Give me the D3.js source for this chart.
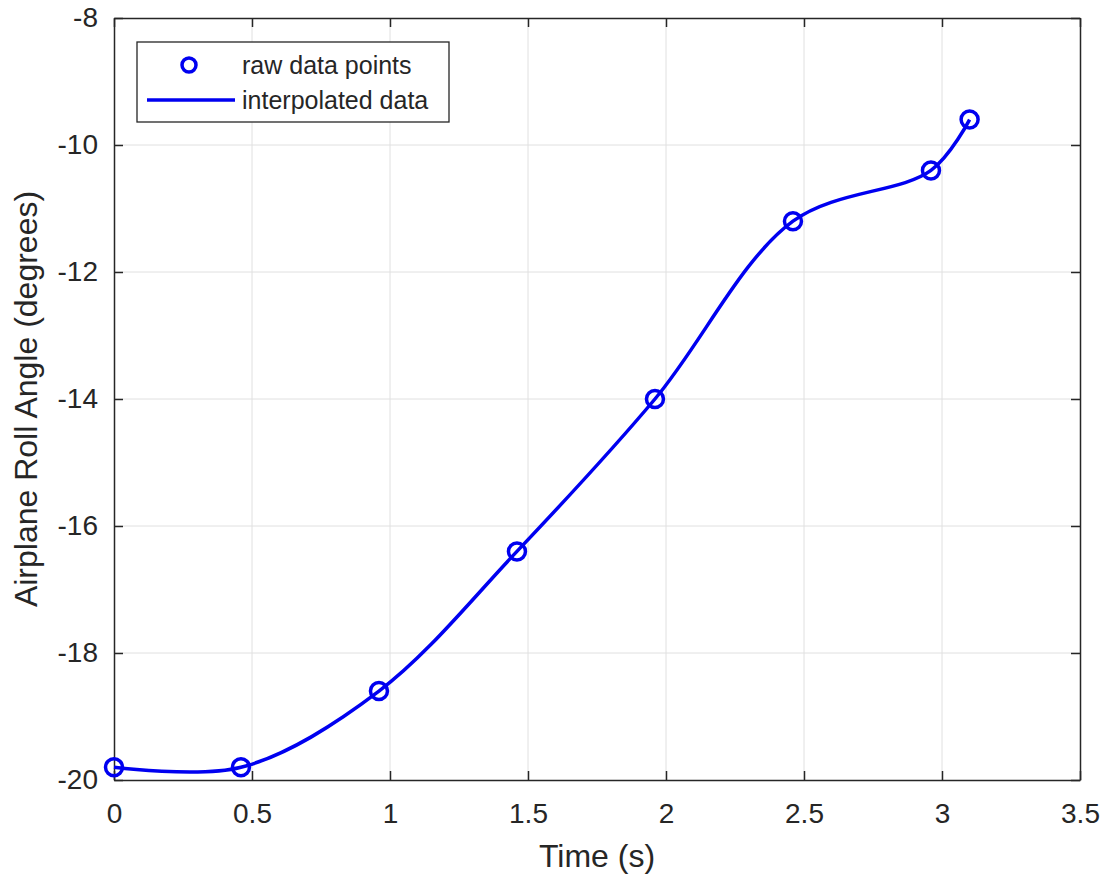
<!DOCTYPE html>
<html>
<head>
<meta charset="utf-8">
<script src="https://cdn.jsdelivr.net/npm/d3@7"></script>
<style>
  body { margin: 0; background: #fff; }
  text { font-family: "Liberation Sans", Arial, sans-serif; fill: #262626; }
</style>
</head>
<body>
<div id="chart"></div>
<script>
// data
var times = [0, 0.46, 0.96, 1.46, 1.96, 2.46, 2.96, 3.1];
var rollAngles = [-19.8, -19.8, -18.6, -16.4, -14.0, -11.2, -10.4, -9.6];
var xTicks = [0, 0.5, 1, 1.5, 2, 2.5, 3, 3.5];
var yTicks = [-20, -18, -16, -14, -12, -10, -8];
var legendLabels = ["raw data points", "interpolated data"];

var data = times.map(function(t, i) { return {t: t, a: rollAngles[i]}; });

// set dimensions margins of graph
var margin = {top: 18, right: 29, bottom: 99, left: 114},
    width = 1109 - margin.left - margin.right,
    height = 879 - margin.top - margin.bottom;

var svg = d3.select("#chart")
  .append("svg")
    .attr("width", 1109)
    .attr("height", 879)
  .append("g")
    .attr("transform", "translate(" + margin.left + "," + margin.top + ")");

var x = d3.scaleLinear().domain([0, 3.5]).range([0, width]);
var y = d3.scaleLinear().domain([-20, -8]).range([height, 0]);

// grid
svg.append("g").selectAll("line")
  .data(xTicks.slice(1, -1)).enter().append("line")
    .attr("x1", function(d) { return x(d); }).attr("x2", function(d) { return x(d); })
    .attr("y1", 0).attr("y2", height)
    .attr("stroke", "#e0e0e0").attr("stroke-width", 1);
svg.append("g").selectAll("line")
  .data(yTicks.slice(1, -1)).enter().append("line")
    .attr("y1", function(d) { return y(d); }).attr("y2", function(d) { return y(d); })
    .attr("x1", 0).attr("x2", width)
    .attr("stroke", "#e0e0e0").attr("stroke-width", 1);

// axes (ticks inward, mirrored on top/right)
var fmt = function(d) { return String(d); };
function styleAxis(g) {
  g.select(".domain").attr("stroke", "#262626").attr("stroke-width", 1.5);
  g.selectAll(".tick line").attr("stroke", "#262626").attr("stroke-width", 1.5);
  g.selectAll("text").attr("font-size", 28).attr("fill", "#262626")
    .attr("font-family", "Liberation Sans, Arial, sans-serif");
}
svg.append("g")
  .attr("transform", "translate(0," + height + ")")
  .call(d3.axisBottom(x).tickValues(xTicks).tickFormat(fmt).tickSizeInner(-9).tickSizeOuter(0).tickPadding(23))
  .call(styleAxis);
svg.append("g")
  .call(d3.axisTop(x).tickValues(xTicks).tickFormat("").tickSizeInner(-9).tickSizeOuter(0))
  .call(styleAxis);
svg.append("g")
  .call(d3.axisLeft(y).tickValues(yTicks).tickFormat(fmt).tickSizeInner(-9).tickSizeOuter(0).tickPadding(16))
  .call(styleAxis);
svg.append("g")
  .attr("transform", "translate(" + width + ",0)")
  .call(d3.axisRight(y).tickValues(yTicks).tickFormat("").tickSizeInner(-9).tickSizeOuter(0))
  .call(styleAxis);

// axis labels
svg.append("text")
  .attr("x", width / 2).attr("y", height + 87)
  .attr("text-anchor", "middle").attr("font-size", 32)
  .text("Time (s)");
svg.append("text")
  .attr("transform", "translate(-77," + height / 2 + ") rotate(-90)")
  .attr("text-anchor", "middle").attr("font-size", 32)
  .text("Airplane Roll Angle (degrees)");

// interpolated line
svg.append("path")
  .datum(data)
  .attr("fill", "none")
  .attr("stroke", "#0000f0")
  .attr("stroke-width", 3.5)
  .attr("d", d3.line()
    .curve(d3.curveCatmullRom.alpha(0.5))
    .x(function(d) { return x(d.t); })
    .y(function(d) { return y(d.a); }));

// raw points
svg.append("g").selectAll("circle")
  .data(data).enter().append("circle")
    .attr("cx", function(d) { return x(d.t); })
    .attr("cy", function(d) { return y(d.a); })
    .attr("r", 8.5)
    .attr("fill", "none")
    .attr("stroke", "#0000f0")
    .attr("stroke-width", 3.5);

// legend
var legend = svg.append("g").attr("transform", "translate(23,24)");
legend.append("rect")
  .attr("width", 312).attr("height", 80)
  .attr("fill", "#fff").attr("stroke", "#262626").attr("stroke-width", 1.3);
legend.append("circle")
  .attr("cx", 52).attr("cy", 23).attr("r", 7)
  .attr("fill", "none").attr("stroke", "#0000f0").attr("stroke-width", 3.5);
legend.append("line")
  .attr("x1", 10).attr("x2", 98).attr("y1", 58).attr("y2", 58)
  .attr("stroke", "#0000f0").attr("stroke-width", 3.5);
legend.selectAll("text.lbl")
  .data(legendLabels).enter().append("text")
    .attr("class", "lbl")
    .attr("x", 105)
    .attr("y", function(d, i) { return 32 + i * 35; })
    .attr("font-size", 25)
    .text(function(d) { return d; });
</script>
</body>
</html>
